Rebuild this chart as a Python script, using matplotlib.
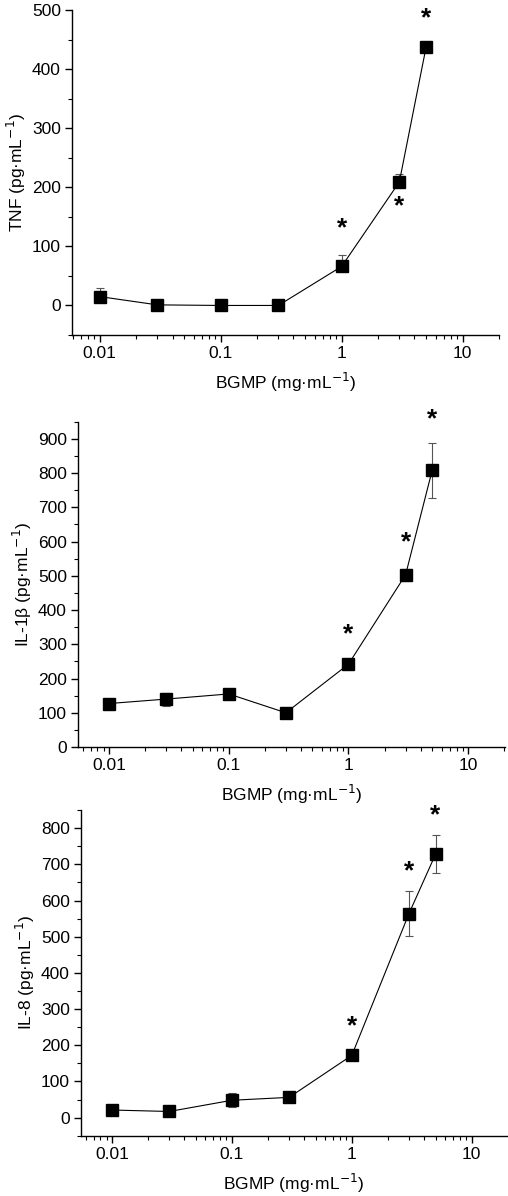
import matplotlib
matplotlib.use("Agg")
import matplotlib.pyplot as plt
from matplotlib.ticker import LogLocator, NullFormatter, MultipleLocator, FixedLocator, FixedFormatter

plt.rcParams['font.family'] = ['Liberation Sans', 'DejaVu Sans']

conc = [0.01, 0.03, 0.1, 0.3, 1, 3, 5]

tnf = [15, 1, 0, 0, 66, 209, 438]
tnf_err_lo = [0, 0, 0, 0, 0, 0, 0]
tnf_err_hi = [15, 0, 0, 0, 20, 13, 0]
tnf_star_x = [1, 3, 5]
tnf_star_y = [130, 168, 486]

il1b = [127, 140, 155, 100, 242, 503, 808]
il1b_err = [0, 19, 0, 0, 0, 18, 80]
il1b_star_x = [1, 3, 5]
il1b_star_y = [330, 598, 958]

il8 = [21, 17, 48, 56, 172, 564, 728]
il8_err = [0, 0, 19, 0, 0, 62, 52]
il8_star_x = [1, 3, 5]
il8_star_y = [252, 680, 835]

xticks = [0.01, 0.1, 1, 10]
xticklabels = ['0.01', '0.1', '1', '10']

panels = [
    dict(y=tnf, e=[tnf_err_lo, tnf_err_hi], sx=tnf_star_x, sy=tnf_star_y,
         ylab='TNF (pg·mL$^{-1}$)',
         ylim=(-50, 500), yt=[0, 100, 200, 300, 400, 500],
         pos=[0.1417, 0.7199, 0.8406, 0.2717], xlim=(0.0059, 20)),
    dict(y=il1b, e=il1b_err, sx=il1b_star_x, sy=il1b_star_y, ylab='IL-1β (pg·mL$^{-1}$)',
         ylim=(0, 950), yt=[0, 100, 200, 300, 400, 500, 600, 700, 800, 900],
         pos=[0.1535, 0.3754, 0.8406, 0.2720], xlim=(0.0055, 20.3)),
    dict(y=il8, e=il8_err, sx=il8_star_x, sy=il8_star_y, ylab='IL-8 (pg·mL$^{-1}$)',
         ylim=(-50, 850), yt=[0, 100, 200, 300, 400, 500, 600, 700, 800],
         pos=[0.1594, 0.0504, 0.8380, 0.2723], xlim=(0.0055, 19.6)),
]

fig = plt.figure(figsize=(5.08, 11.96), dpi=100)

for p in panels:
    ax = fig.add_axes(p['pos'])
    ax.set_xscale('log')
    ax.errorbar(conc, p['y'], yerr=p['e'], fmt='none', ecolor='#555555',
                elinewidth=0.8, capsize=3, capthick=0.8, zorder=2)
    ax.plot(conc, p['y'], color='black', lw=0.8, marker='s', markersize=8,
            markerfacecolor='black', markeredgecolor='black', zorder=3)
    for sx, sy in zip(p['sx'], p['sy']):
        ax.text(sx, sy, '*', ha='center', va='center', fontsize=19,
                fontweight='bold', color='black')
    ax.set_xlim(*p['xlim'])
    ax.set_ylim(*p['ylim'])
    ax.xaxis.set_major_locator(FixedLocator(xticks))
    ax.xaxis.set_major_formatter(FixedFormatter(xticklabels))
    ax.xaxis.set_minor_locator(LogLocator(base=10, subs=range(2, 10), numticks=20))
    ax.xaxis.set_minor_formatter(NullFormatter())
    ax.set_yticks(p['yt'])
    ax.yaxis.set_minor_locator(MultipleLocator(50))
    for s in ['top', 'right']:
        ax.spines[s].set_visible(False)
    for s in ['left', 'bottom']:
        ax.spines[s].set_linewidth(1.0)
    ax.tick_params(axis='both', which='major', direction='out', length=5, width=1,
                   labelsize=12.5, pad=3)
    ax.tick_params(axis='both', which='minor', direction='out', length=3, width=0.8)
    ax.set_xlabel('BGMP (mg·mL$^{-1}$)', fontsize=12.5, labelpad=7)
    ax.set_ylabel(p['ylab'], fontsize=12.5, labelpad=3)

fig.savefig('out.png', dpi=100)
